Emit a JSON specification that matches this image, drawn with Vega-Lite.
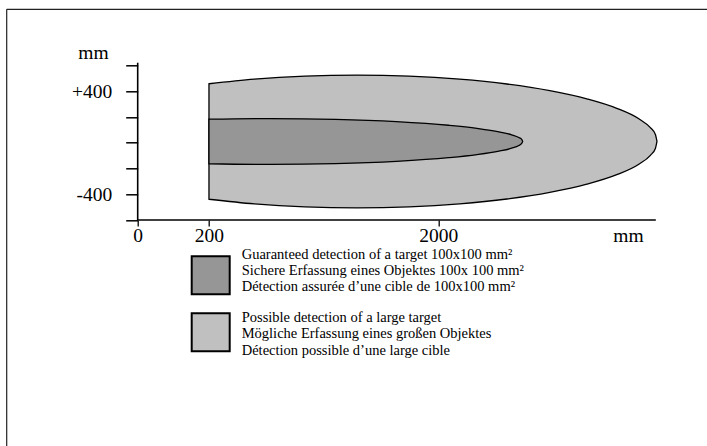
{
  "$schema": "https://vega.github.io/schema/vega-lite/v6.json",
  "width": 700.3,
  "height": 436.7,
  "autosize": {"type": "none"},
  "padding": {"left": 6.7, "top": 9.3, "right": 0, "bottom": 0},
  "background": "white",
  "config": {
    "view": {"stroke": null},
    "font": "Liberation Serif"
  },
  "datasets": {
    "zones": [
      {"zone": "possible", "x": 200, "top": 458.7, "bottom": -438.7},
      {"zone": "possible", "x": 440, "top": 494.7, "bottom": -474.7},
      {"zone": "possible", "x": 783, "top": 518.0, "bottom": -498.0},
      {"zone": "possible", "x": 1208, "top": 525.8, "bottom": -505.8},
      {"zone": "possible", "x": 1698, "top": 518.0, "bottom": -498.0},
      {"zone": "possible", "x": 2232, "top": 494.7, "bottom": -474.7},
      {"zone": "possible", "x": 2780, "top": 456.7, "bottom": -436.7},
      {"zone": "possible", "x": 3314, "top": 405.1, "bottom": -385.1},
      {"zone": "possible", "x": 3803, "top": 341.6, "bottom": -321.6},
      {"zone": "possible", "x": 4217, "top": 267.9, "bottom": -247.9},
      {"zone": "possible", "x": 4532, "top": 186.4, "bottom": -166.4},
      {"zone": "possible", "x": 4700, "top": 117.3, "bottom": -97.3},
      {"zone": "possible", "x": 4774, "top": 63.9, "bottom": -43.9},
      {"zone": "possible", "x": 4797, "top": 10, "bottom": 10},
      {"zone": "guaranteed", "x": 200, "top": 183.1, "bottom": -163.1},
      {"zone": "guaranteed", "x": 538, "top": 188.4, "bottom": -168.4},
      {"zone": "guaranteed", "x": 1023, "top": 182.3, "bottom": -162.3},
      {"zone": "guaranteed", "x": 1573, "top": 164.5, "bottom": -144.5},
      {"zone": "guaranteed", "x": 2112, "top": 136.1, "bottom": -116.1},
      {"zone": "guaranteed", "x": 2428, "top": 112.3, "bottom": -92.3},
      {"zone": "guaranteed", "x": 2684, "top": 85.4, "bottom": -65.4},
      {"zone": "guaranteed", "x": 2837, "top": 62.2, "bottom": -42.2},
      {"zone": "guaranteed", "x": 2925, "top": 40.9, "bottom": -20.9},
      {"zone": "guaranteed", "x": 2960, "top": 25.5, "bottom": -5.5},
      {"zone": "guaranteed", "x": 2972, "top": 10, "bottom": 10}
    ],
    "axislines": [
      {"x": 0, "x2": 4780, "top": -600, "bottom": -600},
      {"x": 0, "x2": 0, "top": 622, "bottom": -600}
    ],
    "frame": [
      {"x": -529.6, "x2": 5557.7, "top": 1037.1, "bottom": 1037.1},
      {"x": -529.6, "x2": -529.6, "top": 1037.1, "bottom": -2356.0}
    ]
  },
  "layer": [
    {
      "data": {"name": "zones"},
      "transform": [{"filter": "datum.zone === 'possible'"}],
      "mark": {"type": "area", "interpolate": "monotone", "stroke": "#000000", "strokeWidth": 1.3},
      "encoding": {
        "x": {
          "field": "x",
          "type": "quantitative",
          "scale": {"type": "pow", "exponent": 0.625, "domain": [-529.6, 5557.7], "nice": false, "zero": false},
          "axis": {
            "title": "mm",
            "titleX": 621.3,
            "titleY": 21.7,
            "titleAlign": "center",
            "titleBaseline": "alphabetic",
            "titleFont": "Liberation Serif",
            "titleFontSize": 19.5,
            "titleFontWeight": "normal",
            "titleColor": "#000000",
            "values": [0, 200, 2000],
            "format": "d",
            "offset": -226,
            "domain": false,
            "grid": false,
            "tickSize": 6,
            "tickWidth": 1.3,
            "tickColor": "#000000",
            "labelPadding": 0,
            "labelFont": "Liberation Serif",
            "labelFontSize": 19.5,
            "labelColor": "#000000",
            "labelFlush": false,
            "labelOverlap": false
          }
        },
        "y": {
          "field": "top",
          "type": "quantitative",
          "stack": null,
          "scale": {"domain": [-2356.0, 1037.1], "nice": false, "zero": false},
          "axis": {
            "title": "mm",
            "titleX": -44.7,
            "titleY": 48.7,
            "titleAngle": 0,
            "titleAlign": "center",
            "titleBaseline": "alphabetic",
            "titleFont": "Liberation Serif",
            "titleFontSize": 19.5,
            "titleFontWeight": "normal",
            "titleColor": "#000000",
            "values": [-600, -400, -200, 0, 200, 400, 600],
            "labelExpr": "datum.value == 400 ? '+400' : (datum.value == -400 ? '-400' : '')",
            "offset": -131,
            "domain": false,
            "grid": false,
            "tickSize": 12,
            "tickWidth": 1.5,
            "tickColor": "#000000",
            "labelPadding": 14,
            "labelFont": "Liberation Serif",
            "labelFontSize": 19.5,
            "labelColor": "#000000",
            "labelBaseline": "middle",
            "labelOverlap": false
          }
        },
        "y2": {"field": "bottom"},
        "color": {
          "field": "zone",
          "type": "nominal",
          "scale": {"domain": ["guaranteed", "possible"], "range": ["#969696", "#c0c0c0"]},
          "legend": {
            "orient": "none",
            "legendX": 184,
            "legendY": 246,
            "title": null,
            "padding": 0,
            "symbolType": "square",
            "symbolSize": 1444,
            "symbolStrokeColor": "#000000",
            "symbolStrokeWidth": 2,
            "symbolOpacity": 1,
            "labelFont": "Liberation Serif",
            "labelFontSize": 14.5,
            "labelColor": "#000000",
            "labelOffset": 11,
            "labelLimit": 0,
            "rowPadding": 11,
            "labelExpr": "datum.value === 'guaranteed' ? ['Guaranteed detection of a target 100x100 mm²', 'Sichere Erfassung eines Objektes 100x 100 mm²', 'Détection assurée d’une cible de 100x100 mm²'] : ['Possible detection of a large target', 'Mögliche Erfassung eines  großen Objektes', 'Détection possible d’une large cible']",
            "encode": {
              "labels": {"update": {"lineHeight": {"value": 16.3}, "dy": {"signal": "datum.value === 'guaranteed' ? -20.8 : -14.3"}}},
              "symbols": {
                "update": {
                  "fill": {"signal": "datum.value === 'guaranteed' ? '#808080' : '#c0c0c0'"},
                  "stroke": {"value": "#000000"},
                  "strokeWidth": {"value": 2}
                }
              }
            }
          }
        }
      }
    },
    {
      "data": {"name": "zones"},
      "transform": [{"filter": "datum.zone === 'guaranteed'"}],
      "mark": {"type": "area", "interpolate": "monotone", "stroke": "#000000", "strokeWidth": 1.3},
      "encoding": {
        "x": {"field": "x", "type": "quantitative"},
        "y": {"field": "top", "type": "quantitative", "stack": null},
        "y2": {"field": "bottom"},
        "color": {"field": "zone", "type": "nominal"}
      }
    },
    {
      "data": {"name": "axislines"},
      "mark": {"type": "rule", "strokeWidth": 1.6, "color": "#000000"},
      "encoding": {
        "x": {"field": "x", "type": "quantitative"},
        "x2": {"field": "x2"},
        "y": {"field": "top", "type": "quantitative"},
        "y2": {"field": "bottom"}
      }
    },
    {
      "data": {"name": "frame"},
      "mark": {"type": "rule", "strokeWidth": 1.2, "color": "#222222"},
      "encoding": {
        "x": {"field": "x", "type": "quantitative"},
        "x2": {"field": "x2"},
        "y": {"field": "top", "type": "quantitative"},
        "y2": {"field": "bottom"}
      }
    }
  ]
}
